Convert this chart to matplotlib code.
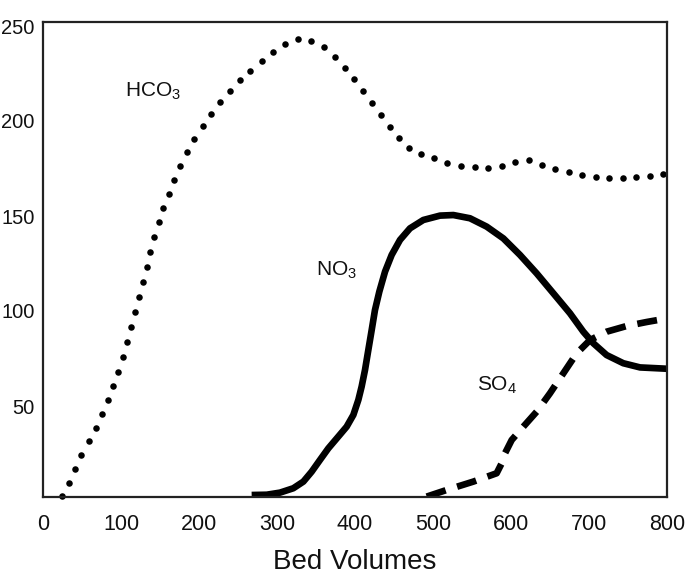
import matplotlib
matplotlib.use("Agg")
import matplotlib.pyplot as plt
from matplotlib.transforms import ScaledTranslation

plt.rcParams['font.family'] = ['Liberation Sans', 'DejaVu Sans']
plt.rcParams['mathtext.fontset'] = 'custom'
plt.rcParams['mathtext.rm'] = 'Liberation Sans'

# HCO3 (dotted curve; each value is one dot)
hco3_x = [24.0, 33.7, 40.6, 49.1, 58.6, 67.6, 75.6, 83.3, 90.1, 96.5, 102.9, 108.1,
          112.8, 118.3, 123.1, 128.2, 132.9, 137.6, 142.7, 148.3, 154.2, 161.2, 168.3,
          176.0, 184.6, 194.0, 204.7, 215.8, 227.3, 239.4, 252.6, 265.8, 280.4, 295.3,
          310.3, 326.5, 343.6, 359.9, 374.0, 386.8, 399.1, 410.6, 421.8, 432.9, 444.5,
          456.0, 469.2, 484.2, 501.7, 518.3, 535.9, 553.5, 570.9, 588.5, 605.5, 622.7,
          639.4, 656.8, 674.0, 691.4, 708.6, 726.0, 743.6, 760.6, 778.6, 795.3]
hco3_y = [0.7, 7.5, 14.9, 22.3, 29.3, 36.3, 43.7, 50.9, 58.6, 65.9, 73.8, 81.6,
          89.5, 97.4, 105.1, 113.0, 120.9, 128.8, 136.7, 144.6, 151.9, 159.6, 167.0,
          174.4, 181.6, 188.6, 195.3, 201.6, 207.7, 213.7, 219.3, 224.4, 229.3, 234.1,
          238.3, 240.9, 240.0, 236.7, 231.7, 225.9, 220.0, 213.7, 207.4, 201.1, 194.9,
          188.9, 183.8, 180.4, 178.3, 175.9, 174.2, 173.5, 173.0, 174.2, 176.5, 177.2,
          174.7, 172.6, 170.9, 169.5, 168.6, 168.1, 167.8, 168.3, 168.9, 170.0]

# NO3 (solid)
no3_x = [267.5, 286.8, 303.8, 320.9, 333.8, 344.4, 355.1, 365.8, 378.6, 389.3, 397.9,
         404.3, 408.5, 412.8, 417.1, 421.4, 425.6, 431.2, 438.5, 447.0, 457.7, 470.5,
         487.6, 509.0, 526.1, 547.4, 568.8, 590.2, 611.5, 632.9, 654.3, 675.6, 692.7,
         705.6, 722.6, 744.0, 765.4, 800.0]
no3_y = [1.05, 1.2, 2.3, 4.6, 8.1, 13.3, 19.5, 25.6, 31.8, 37.0, 43.2,
         51.1, 58.1, 66.8, 77.4, 87.9, 98.4, 108.1, 118.6, 127.4, 135.3, 141.4,
         145.8, 148.1, 148.4, 146.7, 142.3, 136.1, 127.4, 117.7, 107.2, 96.7, 87.0,
         80.9, 74.7, 70.4, 68.2, 67.5]

# SO4 (dashed)
so4_x = [491.9, 517.5, 551.7, 581.6, 588.0, 592.3, 600.9, 615.8, 632.9, 650.0, 667.1,
         684.2, 701.3, 722.6, 748.3, 773.9, 800.0]
so4_y = [0.2, 3.7, 8.1, 12.5, 17.7, 23.0, 30.0, 37.0, 44.9, 54.6, 65.1,
         75.6, 82.6, 87.0, 90.0, 92.1, 94.0]

x_ticks = [0, 100, 200, 300, 400, 500, 600, 700, 800]
y_ticks = [50, 100, 150, 200, 250]

fig = plt.figure(figsize=(6.86, 5.78), dpi=100)
ax = fig.add_axes([43/686, 81/578, 624/686, 475/578])

lw = 4.8
ax.plot(hco3_x, hco3_y, color='black', linestyle='none', marker='o',
        markersize=4.7, markeredgewidth=0, clip_on=False)
ax.plot(no3_x, no3_y, color='black', lw=lw, solid_capstyle='butt',
        solid_joinstyle='round')
ax.plot(so4_x, so4_y, color='black', lw=lw, linestyle=(0, (3.0, 1.8)),
        dash_capstyle='butt', dash_joinstyle='round')

ax.set_xlim(0, 800)
ax.set_ylim(0, 250)
ax.set_xticks(x_ticks)
ax.set_yticks(y_ticks)
ax.tick_params(axis='both', length=0, colors='#111111')
ax.tick_params(axis='x', pad=12, labelsize=15.5)
ax.tick_params(axis='y', pad=6, labelsize=14.5)
for lab in ax.get_yticklabels():
    lab.set_transform(lab.get_transform() + ScaledTranslation(0, -4/100, fig.dpi_scale_trans))

for s in ax.spines.values():
    s.set_linewidth(1.6)
    s.set_color('#222222')

ax.set_xlabel('Bed Volumes', fontsize=20, color='#111111', labelpad=10)

tfont = dict(fontsize=15, color='#111111')
ax.text(105, 211, r'HCO$_\mathregular{3}$', ha='left', va='baseline', **tfont)
ax.text(350, 116.8, r'NO$_\mathregular{3}$', ha='left', va='baseline', **tfont)
ax.text(556, 56.3, r'SO$_\mathregular{4}$', ha='left', va='baseline', **tfont)

fig.savefig('out.png', dpi=100)
